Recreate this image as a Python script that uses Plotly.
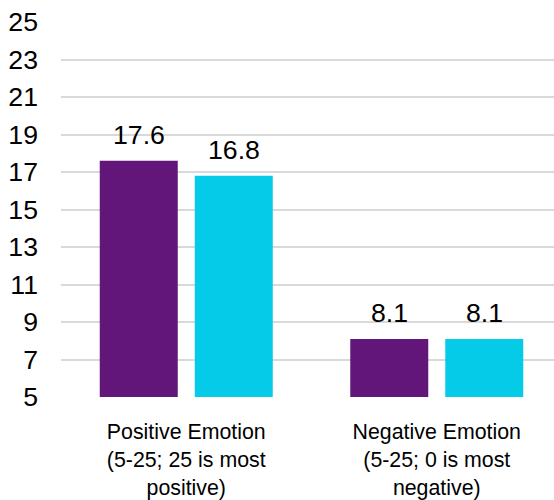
import plotly.graph_objects as go

categories = ["Positive Emotion<br>(5-25; 25 is most<br>positive)",
              "Negative Emotion<br>(5-25; 0 is most<br>negative)"]
series_a = [17.6, 8.1]
series_b = [16.8, 8.1]
tick_vals = [5, 7, 9, 11, 13, 15, 17, 19, 21, 23, 25]

purple = "#621679"
cyan = "#05CBE8"

fig = go.Figure()
fig.add_trace(go.Bar(x=categories, y=series_a, marker=dict(color=purple, line=dict(width=0))))
fig.add_trace(go.Bar(x=categories, y=series_b, marker=dict(color=cyan, line=dict(width=0))))

# value labels above bars
for series, shift in ((series_a, -47.5), (series_b, 47.5)):
    for cat, v in zip(categories, series):
        fig.add_annotation(x=cat, y=v, xref="x", yref="y", text=f"{v:.1f}",
                           showarrow=False, yanchor="bottom", xanchor="center",
                           xshift=shift, yshift=9,
                           font=dict(size=26.67, color="#000000"))

fig.update_layout(
    width=554, height=500,
    margin=dict(l=61, r=0, t=22, b=99),
    paper_bgcolor="white", plot_bgcolor="white",
    font=dict(family="Liberation Sans, Arial, sans-serif", color="#000000"),
    showlegend=False,
    barmode="group", bargap=0.2415, bargroupgap=0.179,
    xaxis=dict(range=[-0.5, 1.468], showgrid=False, showline=False, ticks="",
               tickfont=dict(size=21.33), ticklabelstandoff=20),
    yaxis=dict(range=[5, 25], tickvals=tick_vals, showgrid=True, gridcolor="#D9D9D9",
               gridwidth=1.5, zeroline=False, showline=False, ticks="",
               tickfont=dict(size=26.67), ticklabelstandoff=22),
)

fig.write_html("out.html")
